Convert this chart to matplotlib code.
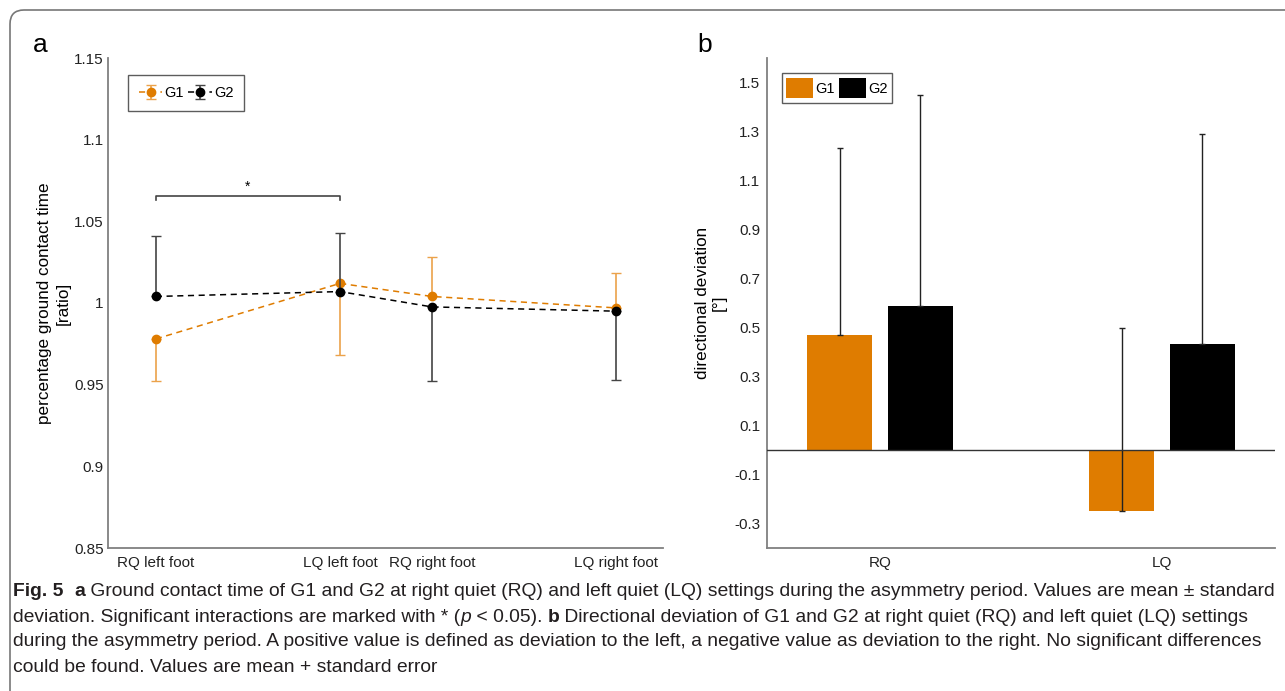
import numpy as np
import matplotlib
matplotlib.use("Agg")
import matplotlib.pyplot as plt
from matplotlib.patches import FancyBboxPatch
from matplotlib.transforms import IdentityTransform

plt.rcParams['font.family'] = ['Liberation Sans', 'DejaVu Sans']
plt.rcParams['font.size'] = 10

# ---- data, panel a (ground contact time, mean with one-sided SD) ----
cats_a = ['RQ left foot', 'LQ left foot', 'RQ right foot', 'LQ right foot']
g1_mean = [0.978, 1.012, 1.004, 0.997]
g1_lo = [0.026, 0.044, 0.0, 0.0]
g1_hi = [0.0, 0.0, 0.024, 0.0214]
g2_mean = [1.004, 1.007, 0.9976, 0.995]
g2_lo = [0.0, 0.0, 0.0456, 0.042]
g2_hi = [0.037, 0.036, 0.0, 0.0]
yticks_a = [0.85, 0.9, 0.95, 1, 1.05, 1.1, 1.15]
ytlabels_a = ['0.85', '0.9', '0.95', '1', '1.05', '1.1', '1.15']
sig_level = 1.0658

# ---- data, panel b (directional deviation, mean + SE) ----
cats_b = ['RQ', 'LQ']
b_g1 = [0.471, -0.249]
b_g1_se = [0.76, 0.749]
b_g2 = [0.589, 0.431]
b_g2_se = [0.86, 0.86]
yticks_b = [-0.3, -0.1, 0.1, 0.3, 0.5, 0.7, 0.9, 1.1, 1.3, 1.5]

orange = '#df7c00'
orange_light = '#eba24a'
axcol = '#808080'

W, H = 1285, 691
fig = plt.figure(figsize=(W / 100, H / 100), dpi=100)

# ---- panel a ----
xa = np.array([1, 3, 4, 6])  # uneven spacing as in the original
ax = fig.add_axes([108 / W, 1 - 548 / H, 555 / W, 490 / H])
ax.errorbar(xa, g1_mean, yerr=[g1_lo, g1_hi], color=orange, ecolor=orange_light,
            ls='--', lw=1.1, marker='o', ms=6, capsize=3.5, elinewidth=1.2, dashes=(4, 3),
            label='G1', zorder=3)
ax.errorbar(xa, g2_mean, yerr=[g2_lo, g2_hi], color='black', ecolor='#444444',
            ls='--', lw=1.1, marker='o', ms=6, capsize=3.5, elinewidth=1.2, dashes=(4, 3),
            label='G2', zorder=4)
ax.set_xlim(0.48, 6.51)
ax.set_ylim(0.85, 1.15)
ax.set_xticks(xa)
ax.set_xticklabels(cats_a, fontsize=11)
ax.set_yticks(yticks_a)
ax.set_yticklabels(ytlabels_a, fontsize=11)
ax.tick_params(axis='y', length=0, pad=3, colors='#222222')
ax.tick_params(axis='x', length=0, pad=6, colors='#222222')
for s in ['top', 'right']:
    ax.spines[s].set_visible(False)
for s in ['left', 'bottom']:
    ax.spines[s].set_color(axcol)
    ax.spines[s].set_linewidth(1.3)
ax.set_ylabel('percentage ground contact time\n[ratio]', fontsize=12.3, linespacing=1.3)
ax.yaxis.set_label_coords(-0.068, 0.5)
# significance bracket
ax.plot([xa[0], xa[0], xa[1], xa[1]], [sig_level - 0.003, sig_level, sig_level, sig_level - 0.003],
        color='#444444', lw=1.2)
ax.text((xa[0] + xa[1]) / 2, sig_level + 0.001, '*', ha='center', va='bottom', fontsize=10)
leg = ax.legend(loc='upper left', ncol=2, bbox_to_anchor=(0.036, 0.965), borderaxespad=0,
                frameon=True, fancybox=False, edgecolor='#333333', fontsize=10.5,
                handlelength=1.6, columnspacing=0.3, handletextpad=0.15, borderpad=0.75)
leg.get_frame().set_linewidth(1.0)

# ---- panel b ----
xb = np.arange(1, len(cats_b) + 1)
off = 0.143
bw = 0.23
bx = fig.add_axes([767 / W, 1 - 548 / H, 508 / W, 490 / H])
bx.bar(xb - off, b_g1, width=bw, color=orange, label='G1', zorder=2)
bx.bar(xb + off, b_g2, width=bw, color='black', label='G2', zorder=2)
bx.errorbar(xb - off, b_g1, yerr=[np.zeros(2), b_g1_se], fmt='none', ecolor='#222222',
            elinewidth=1.0, capsize=2.5, zorder=3)
bx.errorbar(xb + off, b_g2, yerr=[np.zeros(2), b_g2_se], fmt='none', ecolor='#222222',
            elinewidth=1.0, capsize=2.5, zorder=3)
bx.axhline(0, color='#333333', lw=1.0, zorder=4)
bx.set_xlim(0.6, 2.4)
bx.set_ylim(-0.4, 1.6)
bx.set_xticks(xb)
bx.set_xticklabels(cats_b, fontsize=11)
bx.set_yticks(yticks_b)
bx.set_yticklabels(['%.1f' % v for v in yticks_b], fontsize=11)
bx.tick_params(axis='y', length=0, pad=5, colors='#222222')
bx.tick_params(axis='x', length=0, pad=6, colors='#222222')
for s in ['top', 'right']:
    bx.spines[s].set_visible(False)
for s in ['left', 'bottom']:
    bx.spines[s].set_color(axcol)
    bx.spines[s].set_linewidth(1.3)
bx.set_ylabel('directional deviation\n[°]', fontsize=12.3, linespacing=1.1)
bx.yaxis.set_label_coords(-0.08, 0.5)
lgb = bx.legend(loc='upper left', ncol=2, bbox_to_anchor=(0.0295, 0.969), borderaxespad=0,
                frameon=True, fancybox=False, edgecolor='#333333', fontsize=10.5,
                handlelength=1.8, handleheight=1.8, columnspacing=0.35, handletextpad=0.15,
                borderpad=0.3)
lgb.get_frame().set_linewidth(1.0)

# panel letters
fig.text(40 / W, 1 - 45 / H, 'a', fontsize=19, va='center', ha='center')
fig.text(705 / W, 1 - 45 / H, 'b', fontsize=19, va='center', ha='center')

# outer frame with rounded corner
frame = FancyBboxPatch((10, -40), 1400, H - 10 + 40, boxstyle='round,pad=0,rounding_size=14',
                       transform=IdentityTransform(), fill=False, edgecolor='#777777', lw=1.2)
fig.add_artist(frame)

# ---- caption ----
renderer = fig.canvas.get_renderer()
lines = [
    [('Fig. 5', 'bold', 'normal'), ('  ', 'normal', 'normal'), ('a', 'bold', 'normal'),
     (' Ground contact time of G1 and G2 at right quiet (RQ) and left quiet (LQ) settings during the asymmetry period. Values are mean \u00b1 standard', 'normal', 'normal')],
    [('deviation. Significant interactions are marked with * (', 'normal', 'normal'), ('p', 'normal', 'italic'),
     (' < 0.05). ', 'normal', 'normal'), ('b', 'bold', 'normal'),
     (' Directional deviation of G1 and G2 at right quiet (RQ) and left quiet (LQ) settings', 'normal', 'normal')],
    [('during the asymmetry period. A positive value is defined as deviation to the left, a negative value as deviation to the right. No significant differences', 'normal', 'normal')],
    [('could be found. Values are mean + standard error', 'normal', 'normal')],
]
line_y = [592, 617, 642, 667]


def draw_line(segs, yp, size):
    xp = 13.0
    arts = []
    for txt, wt, st in segs:
        t = fig.text(xp / W, 1 - yp / H, txt, fontsize=size, weight=wt, style=st,
                     va='center', ha='left', color='#231f20')
        xp += t.get_window_extent(renderer).width
        arts.append(t)
    return arts, xp


# fit the first line to the width of the original caption
probe, end = draw_line(lines[0], line_y[0], 10)
for t in probe:
    t.remove()
cap_size = 10 * (1278 - 13) / (end - 13)
for segs, yp in zip(lines, line_y):
    draw_line(segs, yp, cap_size)

fig.savefig('out.png', dpi=100)
